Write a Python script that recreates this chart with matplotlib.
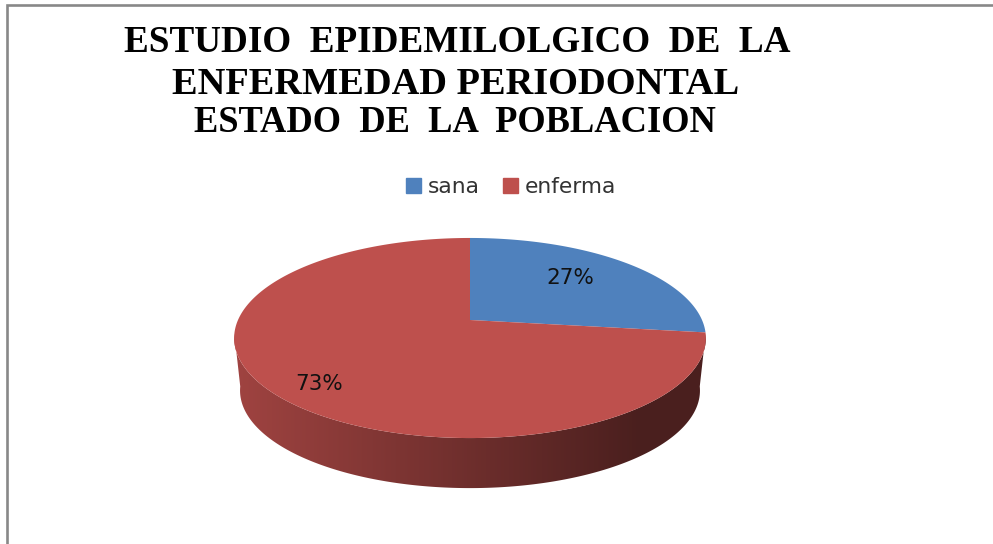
''' Pie chart with a fake 3D look, drawn in pixel coordinates '''
import numpy as np
from matplotlib import pyplot as plt
from matplotlib.colors import to_rgb
from matplotlib.patches import Patch, Polygon

titleLines = ['ESTUDIO  EPIDEMILOLGICO  DE  LA', 'ENFERMEDAD PERIODONTAL', 'ESTADO  DE  LA  POBLACION']
categories = ['sana', 'enferma']
shares = [27, 73]
sliceColors = ['#4F81BD', '#BE504D']

fig = plt.figure(figsize=(9.93, 5.44), dpi=100)
ax = fig.add_axes([0, 0, 1, 1])

''' Frame of the picture '''
ax.plot([7, 7, 993], [544, 5, 5], color='#888888', linewidth=1.9, solid_joinstyle='miter')

''' Perspective projection of the pie circle '''
centreX, centreY = 470, 320
radius = 232
tilt = 0.18
flatten = 96.8


def rim(angle, scale=1.0, drop=0):
    u = np.sin(angle)
    v = np.cos(angle)
    x = centreX + scale*radius*u/(1 + tilt*v)
    y = centreY + drop - scale*flatten*v/(1 + tilt*v)
    return x, y


edges = np.radians(np.cumsum([0] + shares)*360/sum(shares))

''' Side wall first, a horizontal gradient clipped to the wall outline '''
columns = np.arange(225, 716)
shade = np.interp(columns, [235, 470, 640, 705], [0.84, 0.58, 0.39, 0.39])
for i in range(len(shares)):
    start = max(edges[i], np.radians(98))
    stop = min(edges[i+1], np.radians(262))
    if stop <= start:
        continue
    steps = np.linspace(start, stop, 400)
    x1, y1 = rim(steps)
    x2, y2 = rim(steps[::-1], 0.975, 53)
    wall = Polygon(np.c_[np.r_[x1, x2], np.r_[y1, y2]], closed=True, transform=ax.transData,
                   facecolor='none', edgecolor='none')
    ax.add_patch(wall)
    gradient = np.outer(shade, to_rgb(sliceColors[i]))[np.newaxis, :, :]
    image = ax.imshow(gradient, extent=(225, 716, 500, 230), aspect='auto', zorder=2,
                      interpolation='bilinear')
    image.set_clip_path(wall)

''' Top face '''
for i in range(len(shares)):
    x, y = rim(np.linspace(edges[i], edges[i+1], 300))
    ax.fill(np.r_[centreX, x], np.r_[centreY, y], color=sliceColors[i], linewidth=0, zorder=3)

''' Data labels '''
labelX = [570, 319]
labelY = [278, 384]
for i in range(len(shares)):
    ax.text(labelX[i], labelY[i], '%d%%' % shares[i], fontsize=15.5, color='#111111',
            ha='center', va='center', zorder=4)

''' Title '''
titleY = [43, 85, 123]
titleX = [457, 456, 455]
titleSize = [26.7, 27.6, 26.3]
for i in range(len(titleLines)):
    ax.text(titleX[i], titleY[i], titleLines[i], family='Liberation Serif', weight='bold',
            fontsize=titleSize[i], color='black', ha='center', va='center')

''' Legend '''
handles = [Patch(color=sliceColors[i]) for i in range(len(categories))]
ax.legend(handles, categories, ncol=2, frameon=False, fontsize=15.7, labelcolor='#333333',
          loc='center', bbox_to_anchor=(511, 187), bbox_transform=ax.transData,
          handlelength=0.68, handleheight=0.68, handletextpad=0.3, columnspacing=1.1,
          borderpad=0, borderaxespad=0)

ax.set_xlim(0, 993)
ax.set_ylim(544, 0)
ax.axis('off')

plt.savefig('out.png', dpi=100)
